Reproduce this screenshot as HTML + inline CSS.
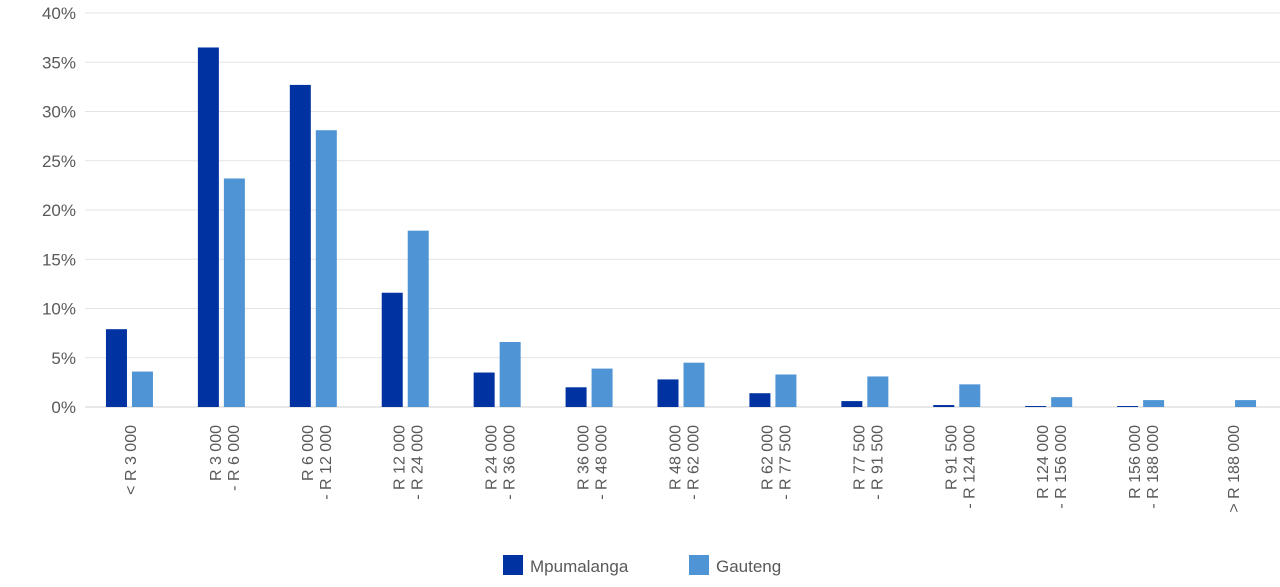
<!DOCTYPE html>
<html><head><meta charset="utf-8"><style>
html,body{margin:0;padding:0;background:#fff;}
svg text{font-family:"Liberation Sans",sans-serif;fill:#595959;}
</style></head><body>
<svg id="chart" width="1280" height="582" xmlns="http://www.w3.org/2000/svg">
<g id="grid"></g>
<g id="yaxis"></g>
<g id="bars"></g>
<g id="xaxis"></g>
<g>
<rect x="503" y="555" width="20" height="20" fill="#0033a1"/>
<text x="530" y="572" font-size="17">Mpumalanga</text>
<rect x="689" y="555" width="20" height="20" fill="#4f94d4"/>
<text x="716" y="572" font-size="17">Gauteng</text>
</g>
</svg>
<script>
const categories=[["< R 3 000"],["R 3 000","- R 6 000"],["R 6 000","- R 12 000"],["R 12 000","- R 24 000"],["R 24 000","- R 36 000"],["R 36 000","- R 48 000"],["R 48 000","- R 62 000"],["R 62 000","- R 77 500"],["R 77 500","- R 91 500"],["R 91 500","- R 124 000"],["R 124 000","- R 156 000"],["R 156 000","- R 188 000"],["> R 188 000"]];
const mpumalanga=[7.9,36.5,32.7,11.6,3.5,2.0,2.8,1.4,0.6,0.2,0.1,0.1,0];
const gauteng=[3.6,23.2,28.1,17.9,6.6,3.9,4.5,3.3,3.1,2.3,1.0,0.7,0.7];
const yTicks=[0,5,10,15,20,25,30,35,40];
const NS="http://www.w3.org/2000/svg";
const x0=85,x1=1280,y0=407,yTop=13,yMax=40;
const y=v=>y0-(v/yMax)*(y0-yTop);
const bw=(x1-x0)/categories.length;
const cx=i=>x0+bw*(i+0.5);
function mk(tag,attrs,parent){const e=document.createElementNS(NS,tag);for(const k in attrs)e.setAttribute(k,attrs[k]);parent.appendChild(e);return e;}
const grid=document.getElementById('grid'),ya=document.getElementById('yaxis'),bars=document.getElementById('bars'),xa=document.getElementById('xaxis');
yTicks.forEach(t=>{
  const l=mk('line',{x1:x0,x2:x1,y1:y(t),y2:y(t),stroke:t===0?'#d0d0d0':'#e3e3e3','stroke-width':1},grid);
  
  
  const tx=mk('text',{x:76,y:y(t)+6,'text-anchor':'end','font-size':17},ya);
  tx.textContent=t+'%';
  
  
});
categories.forEach((c,i)=>{
  const c0=cx(i);
  const b1=mk('rect',{x:c0-25,y:y(mpumalanga[i]),width:21,height:y0-y(mpumalanga[i]),fill:'#0033a1'},bars);
  
  
  const b2=mk('rect',{x:c0+1,y:y(gauteng[i]),width:21,height:y0-y(gauteng[i]),fill:'#4f94d4'},bars);
  
  
  const offs=c.length===1?[5]:[-2,16];
  c.forEach((s,j)=>{
    const xx=c0+offs[j],yy=425;
    const t=mk('text',{x:0,y:0,transform:`translate(${xx},${yy}) rotate(-90)`,'text-anchor':'end','font-size':16},xa);
    t.textContent=s;
    
    
  });
});
</script>
</body></html>
